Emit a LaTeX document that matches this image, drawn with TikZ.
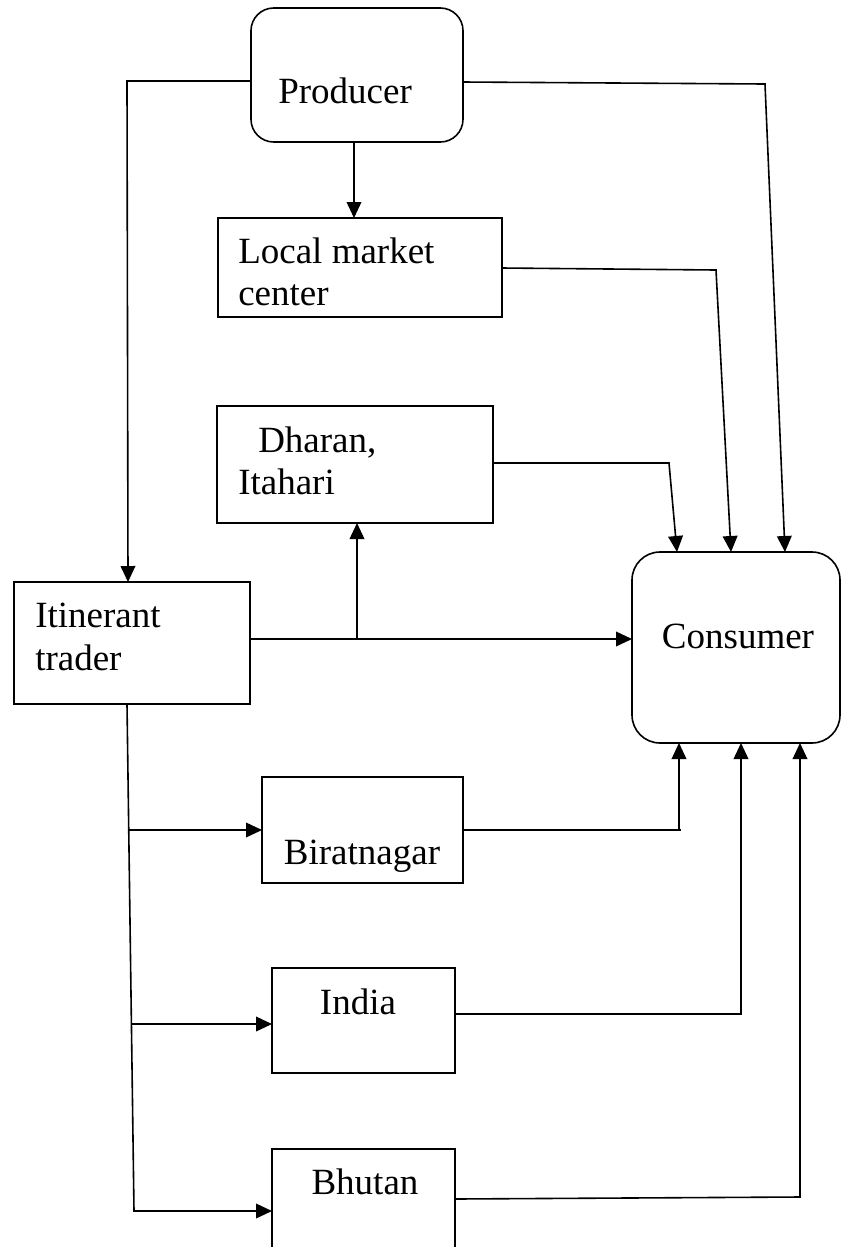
\documentclass[tikz,border=0pt]{standalone}
\usepackage{fontspec}
\setmainfont{Liberation Serif}
\usetikzlibrary{fit,arrows.meta}
\begin{document}
\begin{tikzpicture}[x=0.75pt,y=-0.75pt,
  box/.style={draw, line width=1.2pt, inner sep=0pt},
  rbox/.style={box, rounded corners=17pt},
  txt/.style={anchor=base west, inner sep=0pt, font=\fontsize{27.75}{32}\selectfont},
  ctxt/.style={anchor=base, inner sep=0pt, font=\fontsize{27.75}{32}\selectfont},
  conn/.style={line width=1.2pt},
  arr/.style={conn, -{Triangle[length=12pt,width=11pt]}}]
\useasboundingbox (0,0) rectangle (842,1247);
\clip (0,0) rectangle (842,1247);
% boxes
\node[rbox, fit={(251,8)(463,142)}] (prod) {};
\node[box, fit={(218,218)(502,317)}] (local) {};
\node[box, fit={(217,406)(493,523)}] (dharan) {};
\node[box, fit={(14,582)(250,704)}] (itin) {};
\node[box, rounded corners=21pt, fit={(632,552)(840,743)}] (cons) {};
\node[box, fit={(262,777)(463,883)}] (birat) {};
\node[box, fit={(272,968)(455,1073)}] (india) {};
\node[box, fit={(272,1149)(455,1270)}] (bhutan) {};
% texts
\node[txt] (prodt) at (278,103) {Producer};
\node[txt] (localt1) at (238,263) {Local market};
\node[txt] (localt2) at (238,305) {center};
\node[txt] (dharant1) at (258,452) {Dharan,};
\node[txt] (dharant2) at (238,494) {Itahari};
\node[txt] (itint1) at (35,627) {Itinerant};
\node[txt] (itint2) at (35,670) {trader};
\node[ctxt] (const) at (738,648) {Consumer};
\node[ctxt] (biratt) at (362,864) {Biratnagar};
\node[ctxt] (indiat) at (358,1014) {India};
\node[ctxt] (bhutant) at (365,1194) {Bhutan};
% bend coordinates
\coordinate (p1) at (251,81);
\coordinate (p2) at (127,81);
\coordinate (i1) at (128,582);
\coordinate (p3) at (463,82);
\coordinate (p4) at (765,84);
\coordinate (c1) at (785,552);
\coordinate (pb) at (354,142);
\coordinate (lt) at (354,218);
\coordinate (l1) at (502,268);
\coordinate (l2) at (716,270);
\coordinate (c2) at (731,552);
\coordinate (d1) at (493,463);
\coordinate (d2) at (669,463);
\coordinate (c3) at (677,552);
\coordinate (i2) at (250,639);
\coordinate (c4) at (632,639);
\coordinate (j1) at (357,639);
\coordinate (db) at (357,523);
\coordinate (i3) at (127,704);
\coordinate (t1) at (129,830);
\coordinate (t2) at (132,1024);
\coordinate (t3) at (134,1211);
\coordinate (bw) at (262,830);
\coordinate (iw) at (272,1024);
\coordinate (hw) at (272,1211);
\coordinate (b1) at (463,830);
\coordinate (b2) at (681,830);
\coordinate (b3) at (679,830);
\coordinate (c5) at (679,743);
\coordinate (n1) at (455,1014);
\coordinate (n2) at (741,1014);
\coordinate (c6) at (741,743);
\coordinate (h1) at (455,1199);
\coordinate (h2) at (800,1197);
\coordinate (c7) at (800,743);
% connectors
\draw[arr] (p1) -- (p2) -- (i1);
\draw[arr] (p3) -- (p4) -- (c1);
\draw[arr] (pb) -- (lt);
\draw[arr] (l1) -- (l2) -- (c2);
\draw[arr] (d1) -- (d2) -- (c3);
\draw[arr] (i2) -- (c4);
\draw[arr] (j1) -- (db);
\draw[arr] (i3) -- (t3) -- (hw);
\draw[arr] (t1) -- (bw);
\draw[arr] (t2) -- (iw);
\draw[conn] (b1) -- (b2);
\draw[arr] (b3) -- (c5);
\draw[arr] (n1) -- (n2) -- (c6);
\draw[arr] (h1) -- (h2) -- (c7);
\end{tikzpicture}
\end{document}
